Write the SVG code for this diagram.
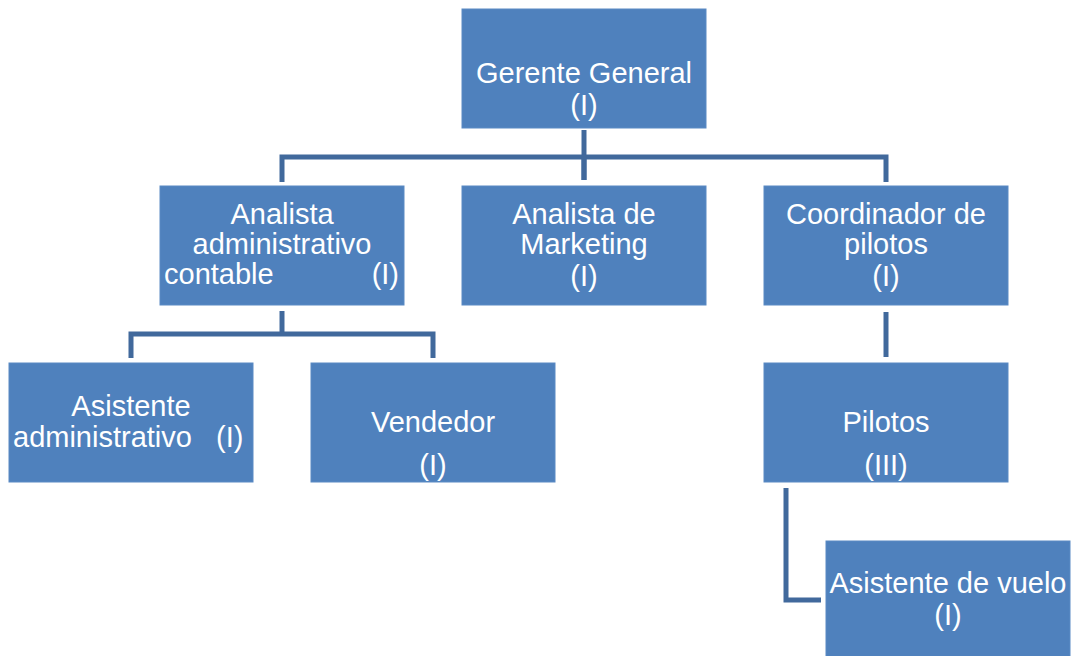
<svg xmlns="http://www.w3.org/2000/svg" width="1074" height="656" viewBox="0 0 1074 656">
<style>
.box{fill:#4F81BD;stroke:#5A8AC4;stroke-width:1}
.t{font-family:"Liberation Sans",Arial,sans-serif;font-size:29px;fill:#FFFFFF;text-anchor:middle}
.l{text-anchor:start}
.r{text-anchor:end}
.c{fill:none;stroke:#41699C;stroke-width:5;stroke-linejoin:miter}
</style>
<rect width="1074" height="656" fill="#FFFFFF"/>
<g id="connectors">
<path class="c" d="M584 130V180"/>
<path class="c" d="M282 182V157H886V182"/>
<path class="c" d="M584 157V180"/>
<path class="c" d="M282 311V334"/>
<path class="c" d="M131 358V334H433V358"/>
<path class="c" d="M886 312V357"/>
<path class="c" d="M786 488V600H821"/>
</g>
<g id="gerente">
<rect class="box" x="462" y="9" width="244" height="119"/>
<text class="t" x="584" y="83">Gerente General</text>
<text class="t" x="584" y="115">(I)</text>
</g>
<g id="analista-admin">
<rect class="box" x="160" y="186" width="244" height="119"/>
<text class="t" x="282" y="224">Analista</text>
<text class="t" x="282" y="254">administrativo</text>
<text class="t l" x="164" y="284">contable</text>
<text class="t r" x="399" y="284">(I)</text>
</g>
<g id="analista-marketing">
<rect class="box" x="462" y="186" width="244" height="119"/>
<text class="t" x="584" y="224">Analista de</text>
<text class="t" x="584" y="254">Marketing</text>
<text class="t" x="584" y="286">(I)</text>
</g>
<g id="coordinador">
<rect class="box" x="764" y="186" width="244" height="119"/>
<text class="t" x="886" y="224">Coordinador de</text>
<text class="t" x="886" y="254">pilotos</text>
<text class="t" x="886" y="286">(I)</text>
</g>
<g id="asistente-admin">
<rect class="box" x="9" y="363" width="244" height="119"/>
<text class="t" x="131" y="416">Asistente</text>
<text class="t l" x="13" y="447" xml:space="preserve">administrativo   (I)</text>
</g>
<g id="vendedor">
<rect class="box" x="311" y="363" width="244" height="119"/>
<text class="t" x="433" y="432">Vendedor</text>
<text class="t" x="433" y="475">(I)</text>
</g>
<g id="pilotos">
<rect class="box" x="764" y="363" width="244" height="119"/>
<text class="t" x="886" y="432">Pilotos</text>
<text class="t" x="886" y="475">(III)</text>
</g>
<g id="asistente-vuelo">
<rect class="box" x="826" y="541" width="244" height="119"/>
<text class="t" x="948" y="593">Asistente de vuelo</text>
<text class="t" x="948" y="625">(I)</text>
</g>
</svg>
